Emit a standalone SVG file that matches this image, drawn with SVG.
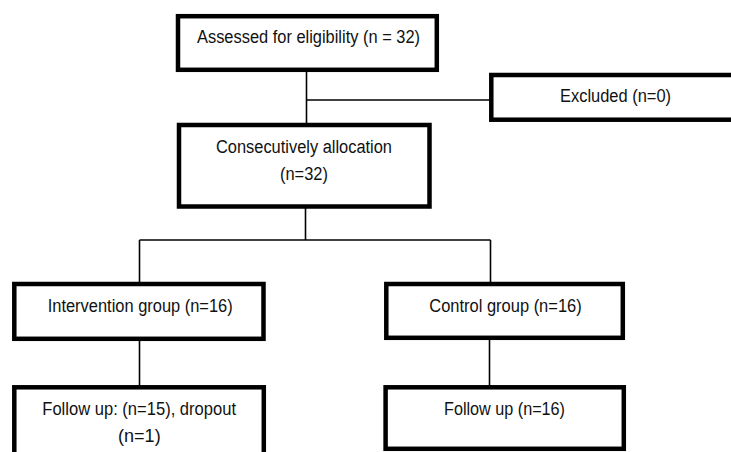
<svg xmlns="http://www.w3.org/2000/svg" width="731" height="452" viewBox="0 0 731 452">
<style>
.box{fill:#fff;stroke:#000;stroke-width:4.5}
.lbl{font-family:"Liberation Sans",Arial,sans-serif;font-size:18px;fill:#111}
.conn{stroke:#000;stroke-width:1.6;fill:none}
</style>
<rect width="731" height="452" fill="#fff"/>
<g id="connectors">
<line class="conn" x1="306.5" y1="72" x2="306.5" y2="123"/>
<line class="conn" x1="306.5" y1="100" x2="490" y2="100"/>
<line class="conn" x1="305.5" y1="208" x2="305.5" y2="240"/>
<line class="conn" x1="139.5" y1="240" x2="490.5" y2="240"/>
<line class="conn" x1="139.5" y1="240" x2="139.5" y2="283"/>
<line class="conn" x1="490.5" y1="240" x2="490.5" y2="283"/>
<line class="conn" x1="139.5" y1="340" x2="139.5" y2="386"/>
<line class="conn" x1="489.5" y1="339" x2="489.5" y2="386"/>
</g>
<g id="assessed">
<rect class="box" x="178" y="16.2" width="258.8" height="53.6"/>
<text class="lbl" x="197" y="43" textLength="223" lengthAdjust="spacingAndGlyphs">Assessed for eligibility (n = 32)</text>
</g>
<g id="excluded">
<rect class="box" x="491.3" y="75" width="260" height="44.7"/>
<text class="lbl" x="560" y="102" textLength="111" lengthAdjust="spacingAndGlyphs">Excluded (n=0)</text>
</g>
<g id="allocation">
<rect class="box" x="179" y="125" width="250.5" height="81.5"/>
<text class="lbl" x="216" y="153.3" textLength="176" lengthAdjust="spacingAndGlyphs">Consecutively allocation</text>
<text class="lbl" x="280" y="180" textLength="48" lengthAdjust="spacingAndGlyphs">(n=32)</text>
</g>
<g id="intervention">
<rect class="box" x="14.3" y="284" width="249.2" height="54.8"/>
<text class="lbl" x="47.7" y="311.7" textLength="185" lengthAdjust="spacingAndGlyphs">Intervention group (n=16)</text>
</g>
<g id="control">
<rect class="box" x="386.3" y="284" width="236.5" height="53.8"/>
<text class="lbl" x="429.3" y="311.7" textLength="152.4" lengthAdjust="spacingAndGlyphs">Control group (n=16)</text>
</g>
<g id="followup-intervention">
<rect class="box" x="14.3" y="387.3" width="249.5" height="80"/>
<text class="lbl" x="42.3" y="415" textLength="193.7" lengthAdjust="spacingAndGlyphs">Follow up: (n=15), dropout</text>
<text class="lbl" x="118" y="441.7" textLength="42.7" lengthAdjust="spacingAndGlyphs">(n=1)</text>
</g>
<g id="followup-control">
<rect class="box" x="385.6" y="387.3" width="238.2" height="61.5"/>
<text class="lbl" x="444" y="415" textLength="121" lengthAdjust="spacingAndGlyphs">Follow up (n=16)</text>
</g>
</svg>
